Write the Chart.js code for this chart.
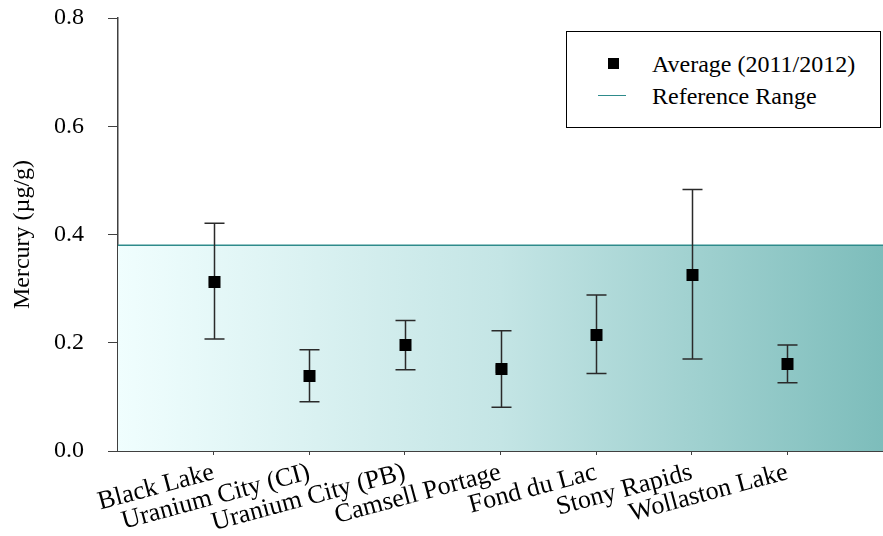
<!DOCTYPE html>
<html>
<head>
<meta charset="utf-8">
<script src="https://cdn.jsdelivr.net/npm/chart.js@4.4.1/dist/chart.umd.min.js"></script>
<style>
html,body{margin:0;padding:0;background:#fff;}
#wrap{position:relative;width:883px;height:536px;}
#legend{position:absolute;left:566px;top:31px;width:313px;height:95px;border:1px solid #000;background:#fff;font-family:"Liberation Serif",serif;font-size:24px;color:#000;}
.row{position:absolute;left:0;height:28px;line-height:28px;}
.mk{position:absolute;left:41px;top:8px;width:11px;height:11px;background:#000;}
.ln{position:absolute;left:31px;top:13px;width:28px;height:0;border-top:1.5px solid #2e8b8b;}
.tx{position:absolute;left:85px;white-space:nowrap;}
</style>
</head>
<body>
<div id="wrap">
<canvas id="c" width="883" height="536"></canvas>
<div id="legend">
  <div class="row" style="top:18px;width:313px"><div class="mk"></div><div class="tx">Average (2011/2012)</div></div>
  <div class="row" style="top:50px;width:313px"><div class="ln"></div><div class="tx">Reference Range</div></div>
</div>
</div>
<script>
const categories = ["Black Lake","Uranium City (CI)","Uranium City (PB)","Camsell Portage","Fond du Lac","Stony Rapids","Wollaston Lake"];
const averages = [0.313, 0.139, 0.196, 0.152, 0.215, 0.326, 0.160];
const upper    = [0.421, 0.187, 0.241, 0.222, 0.288, 0.483, 0.196];
const lower    = [0.207, 0.091, 0.150, 0.081, 0.143, 0.170, 0.126];
const referenceMax = 0.38;
const yTicks = [0.0, 0.2, 0.4, 0.6, 0.8];

const serif = '"Liberation Serif", "Times New Roman", serif';

const errorBars = {
  id: 'errorBars',
  afterDatasetsDraw(chart) {
    const ctx = chart.ctx, xs = chart.scales.x, ys = chart.scales.y;
    ctx.save();
    ctx.strokeStyle = '#2a2a2a';
    ctx.lineWidth = 1.5;
    categories.forEach((c, i) => {
      const x = Math.round(xs.getPixelForValue(i + 1)) + 0.5;
      const yt = ys.getPixelForValue(upper[i]);
      const yb = ys.getPixelForValue(lower[i]);
      ctx.beginPath();
      ctx.moveTo(x, yt); ctx.lineTo(x, yb);
      ctx.moveTo(x - 10, yt); ctx.lineTo(x + 10, yt);
      ctx.moveTo(x - 10, yb); ctx.lineTo(x + 10, yb);
      ctx.stroke();
    });
    const meta = chart.getDatasetMeta(1);
    meta.data.forEach(p => {
      ctx.fillStyle = '#000';
      ctx.fillRect(Math.round(p.x) - 5.5, Math.round(p.y) - 6, 12, 12);
    });
    ctx.restore();
  }
};

new Chart(document.getElementById('c'), {
  type: 'scatter',
  data: {
    datasets: [
      {
        type: 'line',
        label: 'Reference Range',
        data: [{x: 0, y: referenceMax}, {x: 8, y: referenceMax}],
        borderColor: '#2e8b8b',
        borderWidth: 1.5,
        pointRadius: 0,
        fill: 'origin',
        backgroundColor: (ctx) => {
          const ca = ctx.chart.chartArea;
          if (!ca) return '#cde';
          const g = ctx.chart.ctx.createLinearGradient(ca.left, 0, ca.right, 0);
          g.addColorStop(0, '#f0fefe');
          g.addColorStop(0.5, '#c4e5e5');
          g.addColorStop(1, '#7dbdbb');
          return g;
        },
        order: 2
      },
      {
        label: 'Average (2011/2012)',
        data: averages.map((v, i) => ({x: i + 1, y: v})),
        pointStyle: 'rect',
        pointRadius: 6,
        pointBackgroundColor: '#000',
        pointBorderColor: '#000',
        showLine: false,
        order: 1
      }
    ]
  },
  options: {
    responsive: false,
    animation: false,
    layout: {autoPadding: false, padding: {top: 18, right: 0, left: 0, bottom: 0}},
    plugins: {legend: {display: false}, tooltip: {enabled: false}},
    scales: {
      x: {
        type: 'linear',
        min: 0, max: 8,
        afterBuildTicks: (s) => { s.ticks = categories.map((c, i) => ({value: i + 1})); },
        afterFit: (s) => { s.height = 85; s.paddingLeft = 0; s.paddingRight = 0; },
        border: {color: '#404040', width: 2},
        grid: {drawOnChartArea: false, tickLength: 4, color: '#404040'},
        ticks: {
          autoSkip: false,
          minRotation: 15, maxRotation: 15,
          padding: 2,
          color: '#000',
          font: {family: serif, size: 26},
          callback: (v) => categories[v - 1] || ''
        }
      },
      y: {
        min: 0, max: 0.8,
        afterBuildTicks: (s) => { s.ticks = yTicks.map(v => ({value: v})); },
        afterFit: (s) => { s.width = 118; s.paddingTop = 0; s.paddingBottom = 0; },
        border: {color: '#404040', width: 1.5},
        grid: {drawOnChartArea: false, tickLength: 10, color: '#404040'},
        ticks: {
          padding: 24,
          color: '#000',
          font: {family: serif, size: 24},
          callback: (v) => v.toFixed(1)
        },
        title: {
          display: true,
          text: 'Mercury (µg/g)',
          color: '#000',
          font: {family: serif, size: 24},
          padding: {top: 8, bottom: 0}
        }
      }
    }
  },
  plugins: [errorBars]
});
</script>
</body>
</html>
